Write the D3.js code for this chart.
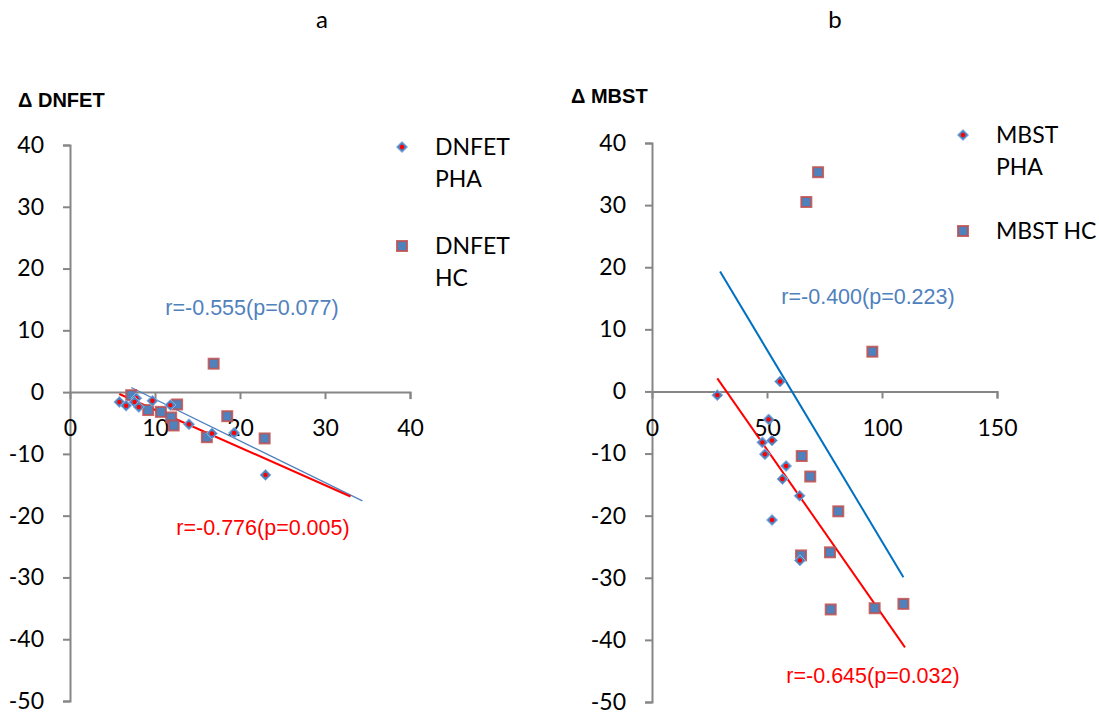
<!DOCTYPE html>
<html>
<head>
<meta charset="utf-8">
<script src="https://cdn.jsdelivr.net/npm/d3@7"></script>
<style>
  body { margin: 0; background: #fff; }
  svg text { font-family: Lato, "Open Sans", sans-serif; }
</style>
</head>
<body>
<svg id="chart" width="1099" height="715"></svg>
<script>
// panel a : DNFET
var dnfetPhaX = [5.8, 6.6, 7.8, 7.6, 8.1, 9.7, 11.8, 14.0, 16.7, 19.3, 23.0];
var dnfetPhaY = [-1.6, -2.2, -1.0, -1.6, -2.4, -1.4, -2.1, -5.2, -6.7, -6.6, -13.4];
var dnfetHcX = [7.2, 9.2, 10.7, 11.9, 12.2, 12.6, 16.1, 16.9, 18.5, 22.9];
var dnfetHcY = [-0.5, -2.9, -3.2, -4.1, -5.4, -2.0, -7.3, 4.6, -3.9, -7.5];
var dnfetPhaFit = [[7.2, 0.75], [34.4, -17.6]];
var dnfetHcFit = [[5.8, -0.3], [33.0, -16.9]];

// panel b : MBST
var mbstPhaX = [28.4, 55.7, 50.7, 48.0, 52.2, 49.1, 58.3, 56.7, 64.2, 52.2, 64.3];
var mbstPhaY = [-0.6, 1.6, -4.5, -8.2, -7.9, -10.1, -12.0, -14.1, -16.8, -20.7, -27.2];
var mbstHcX = [65.1, 68.8, 81.0, 64.8, 77.4, 77.7, 96.8, 109.3, 95.8, 72.2, 67.1];
var mbstHcY = [-10.4, -13.7, -19.3, -26.4, -25.9, -35.1, -34.9, -34.2, 6.4, 35.3, 30.5];
var mbstPhaFit = [[29.6, 19.3], [109.3, -29.9]];
var mbstHcFit = [[28.4, 2.1], [110, -41.2]];

var yTicks = [40, 30, 20, 10, 0, -10, -20, -30, -40, -50];
var dnfetXTicks = [0, 10, 20, 30, 40];
var mbstXTicks = [0, 50, 100, 150];

var blue = '#4f81bd', red = '#ff0000', hcBorder = '#c0504d', axisCol = '#868686';
var arial = '"Liberation Sans", Arial, sans-serif';

var svg = d3.select('#chart');

// plain hyphen minus, like the original
var fmt = function(d) { return String(d); };

function drawPanel(p) {
  var g = svg.append('g');
  var x = d3.scaleLinear().domain(p.xDomain).range(p.xRange);
  var y = d3.scaleLinear().domain([-50, 40]).range(p.yRange);

  // panel letter
  g.append('text').attr('x', p.letterX).attr('y', 28)
    .attr('text-anchor', 'middle').style('font-size', '24px').text(p.letter);

  // y axis title
  g.append('text').attr('x', p.titleX).attr('y', p.titleY)
    .style('font-family', arial)
    .style('font-weight', 'bold').style('font-size', '20px').text(p.title);

  // y axis
  var yAxis = g.append('g').attr('transform', 'translate(' + x(0) + ',0)')
    .call(d3.axisLeft(y).tickValues(yTicks).tickSize(7).tickPadding(19).tickFormat(fmt));
  // x axis at y = 0
  var xAxis = g.append('g').attr('transform', 'translate(0,' + y(0) + ')')
    .call(d3.axisBottom(x).tickValues(p.xTicks).tickSize(7).tickPadding(21).tickFormat(fmt));
  [yAxis, xAxis].forEach(function(a) {
    a.select('.domain').attr('stroke', axisCol).attr('stroke-width', 2);
    a.selectAll('.tick line').attr('stroke', axisCol).attr('stroke-width', 2);
    a.selectAll('.tick text').attr('fill', '#000').style('font-size', '23px')
      .style('font-family', 'Lato, "Open Sans", sans-serif');
  });
  xAxis.selectAll('.tick').filter(function(d) { return d === 0; }).select('line').remove();

  // trend lines
  var line = d3.line().x(function(d) { return x(d[0]); }).y(function(d) { return y(d[1]); });
  g.append('path').datum(p.phaFit).attr('d', line)
    .attr('stroke', p.phaLine).attr('stroke-width', p.phaLineW).attr('fill', 'none');
  g.append('path').datum(p.hcFit).attr('d', line)
    .attr('stroke', red).attr('stroke-width', 2).attr('fill', 'none');

  // HC squares
  g.selectAll('.hc').data(d3.zip(p.hcX, p.hcY)).enter().append('rect')
    .attr('x', function(d) { return x(d[0]) - 5; })
    .attr('y', function(d) { return y(d[1]) - 5; })
    .attr('width', 10).attr('height', 10)
    .attr('fill', blue).attr('stroke', hcBorder).attr('stroke-opacity', 0.85).attr('stroke-width', 2);

  // PHA diamonds with red center
  var dia = g.selectAll('.pha').data(d3.zip(p.phaX, p.phaY)).enter().append('g')
    .attr('transform', function(d) { return 'translate(' + x(d[0]) + ',' + y(d[1]) + ')'; });
  dia.append('path').attr('d', 'M0,-5.5L5.5,0L0,5.5L-5.5,0Z').attr('fill', blue).attr('stroke', '#8eb4e3').attr('stroke-width', 1);
  dia.append('circle').attr('r', 2.2).attr('fill', red);

  // annotations
  p.notes.forEach(function(n) {
    g.append('text').attr('x', n.x).attr('y', n.y).attr('text-anchor', 'middle')
      .style('font-family', arial).style('font-size', '21.5px')
      .attr('fill', n.c).text(n.t);
  });

  // legend
  var lg = g.append('g');
  var ld = lg.append('g').attr('transform', 'translate(' + p.legX + ',' + p.legY[0] + ')');
  ld.append('path').attr('d', 'M0,-5.5L5.5,0L0,5.5L-5.5,0Z').attr('fill', blue).attr('stroke', '#8eb4e3').attr('stroke-width', 1);
  ld.append('circle').attr('r', 2.2).attr('fill', red);
  lg.append('rect').attr('x', p.legX - 5).attr('y', p.legY[1] - 5).attr('width', 10).attr('height', 10)
    .attr('fill', blue).attr('stroke', hcBorder).attr('stroke-opacity', 0.85).attr('stroke-width', 2);
  p.legText.forEach(function(lines, i) {
    lines.forEach(function(t, j) {
      lg.append('text').attr('x', p.legX + 33).attr('y', p.legY[i] + 8 + j * 32)
        .style('font-size', '23px').text(t);
    });
  });
}

drawPanel({
  letter: 'a', letterX: 322, title: '\u0394 DNFET', titleX: 18, titleY: 107,
  xDomain: [0, 40], xRange: [70, 410], yRange: [701, 145], xTicks: dnfetXTicks,
  phaX: dnfetPhaX, phaY: dnfetPhaY, hcX: dnfetHcX, hcY: dnfetHcY,
  phaFit: dnfetPhaFit, hcFit: dnfetHcFit, phaLine: blue, phaLineW: 1.3,
  notes: [{x: 252, y: 315, c: blue, t: 'r=-0.555(p=0.077)'},
          {x: 263, y: 535, c: red, t: 'r=-0.776(p=0.005)'}],
  legX: 402, legY: [147, 246], legText: [['DNFET', 'PHA'], ['DNFET', 'HC']]
});

drawPanel({
  letter: 'b', letterX: 835, title: '\u0394 MBST', titleX: 571, titleY: 103,
  xDomain: [0, 150], xRange: [652, 997], yRange: [702, 143], xTicks: mbstXTicks,
  phaX: mbstPhaX, phaY: mbstPhaY, hcX: mbstHcX, hcY: mbstHcY,
  phaFit: mbstPhaFit, hcFit: mbstHcFit, phaLine: '#0070c0', phaLineW: 2,
  notes: [{x: 868, y: 304, c: blue, t: 'r=-0.400(p=0.223)'},
          {x: 873, y: 683, c: red, t: 'r=-0.645(p=0.032)'}],
  legX: 963, legY: [135, 231], legText: [['MBST', 'PHA'], ['MBST HC']]
});
</script>
</body>
</html>
